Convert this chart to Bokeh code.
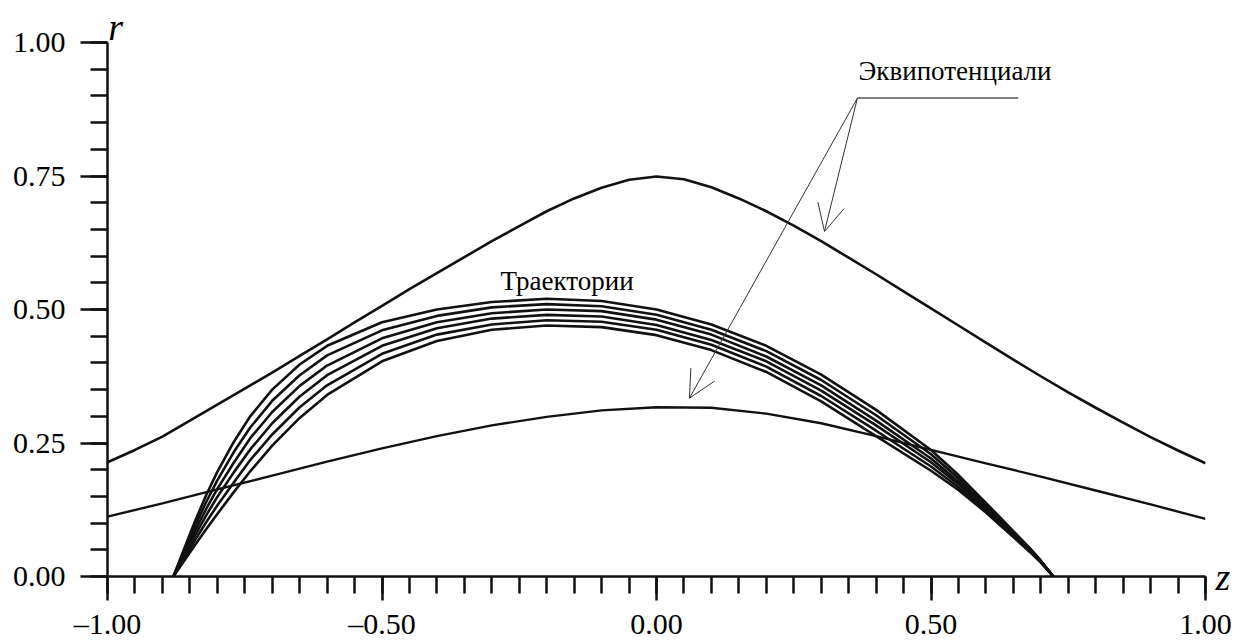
from bokeh.plotting import figure
from bokeh.models import Range1d, FixedTicker, Label, Arrow, OpenHead, LinearAxis
from bokeh.embed import file_html
from bokeh.resources import INLINE

# ---------------- data ----------------
z_upper = [-1.00, -0.95, -0.90, -0.85, -0.80, -0.75, -0.70, -0.65, -0.60, -0.55,
           -0.50, -0.45, -0.40, -0.35, -0.30, -0.25, -0.20, -0.15, -0.10, -0.05,
           0.00, 0.05, 0.10, 0.15, 0.20, 0.25, 0.30, 0.35, 0.40, 0.45,
           0.50, 0.55, 0.60, 0.65, 0.70, 0.75, 0.80, 0.85, 0.90, 0.95, 1.00]
r_upper = [0.214, 0.237, 0.262, 0.292, 0.322, 0.352, 0.382, 0.413, 0.444, 0.476,
           0.507, 0.538, 0.568, 0.598, 0.628, 0.656, 0.684, 0.708, 0.728, 0.743,
           0.749, 0.744, 0.729, 0.708, 0.684, 0.657, 0.628, 0.597, 0.566, 0.534,
           0.502, 0.470, 0.438, 0.406, 0.375, 0.345, 0.316, 0.288, 0.261, 0.236, 0.212]

z_lower = [-1.0, -0.9, -0.8, -0.7, -0.6, -0.5, -0.4, -0.3, -0.2, -0.1, 0.0,
           0.1, 0.2, 0.3, 0.4, 0.5, 0.6, 0.7, 0.8, 0.9, 1.0]
r_lower = [0.112, 0.137, 0.163, 0.189, 0.215, 0.240, 0.263, 0.283, 0.299, 0.311, 0.317,
           0.316, 0.305, 0.287, 0.263, 0.237, 0.212, 0.187, 0.161, 0.135, 0.108]

z_traj = [-0.88, -0.86, -0.84, -0.82, -0.80, -0.77, -0.74, -0.70, -0.65, -0.60,
          -0.50, -0.40, -0.30, -0.20, -0.10, 0.00, 0.10, 0.20, 0.30, 0.40,
          0.50, 0.55, 0.60, 0.65, 0.68, 0.70, 0.723]
r_traj1 = [0, 0.053, 0.105, 0.153, 0.196, 0.252, 0.300, 0.350, 0.397, 0.432,
           0.476, 0.500, 0.514, 0.520, 0.516, 0.500, 0.472, 0.432, 0.378, 0.312,
           0.237, 0.190, 0.138, 0.085, 0.053, 0.030, 0]
r_traj2 = [0, 0.048, 0.096, 0.140, 0.180, 0.233, 0.279, 0.329, 0.377, 0.414,
           0.461, 0.488, 0.504, 0.510, 0.506, 0.490, 0.462, 0.422, 0.368, 0.302,
           0.229, 0.184, 0.134, 0.083, 0.052, 0.029, 0]
r_traj3 = [0, 0.044, 0.087, 0.127, 0.164, 0.213, 0.259, 0.308, 0.357, 0.395,
           0.446, 0.476, 0.493, 0.500, 0.497, 0.481, 0.453, 0.412, 0.358, 0.292,
           0.221, 0.178, 0.131, 0.081, 0.050, 0.028, 0]
r_traj4 = [0, 0.039, 0.078, 0.115, 0.149, 0.195, 0.238, 0.287, 0.337, 0.377,
           0.432, 0.465, 0.483, 0.490, 0.487, 0.471, 0.443, 0.403, 0.348, 0.283,
           0.214, 0.173, 0.127, 0.078, 0.049, 0.028, 0]
r_traj5 = [0, 0.035, 0.069, 0.102, 0.133, 0.176, 0.218, 0.266, 0.317, 0.358,
           0.417, 0.453, 0.472, 0.480, 0.477, 0.462, 0.434, 0.393, 0.338, 0.273,
           0.206, 0.167, 0.124, 0.076, 0.047, 0.027, 0]
r_traj6 = [0, 0.030, 0.060, 0.089, 0.117, 0.158, 0.197, 0.245, 0.297, 0.340,
           0.403, 0.441, 0.462, 0.470, 0.467, 0.452, 0.424, 0.383, 0.328, 0.263,
           0.198, 0.162, 0.120, 0.074, 0.046, 0.026, 0]
trajectories = [r_traj1, r_traj2, r_traj3, r_traj4, r_traj5, r_traj6]

x_major = [-1.0, -0.5, 0.0, 0.5, 1.0]
x_labels = ["\u20131.00", "\u20130.50", "0.00", "0.50", "1.00"]
y_major = [0.0, 0.25, 0.5, 0.75, 1.0]
y_labels = ["0.00", "0.25", "0.50", "0.75", "1.00"]

label_traj = "Траектории"
label_equi = "Эквипотенциали"
name_r = "r"
name_z = "z"

# ---------------- figure ----------------
SERIF = "Liberation Serif"
INK = "#111111"

p = figure(width=1246, height=642, x_range=Range1d(-1, 1), y_range=Range1d(0, 1),
           output_backend="svg", toolbar_location=None,
           min_border_left=107, min_border_right=41, min_border_top=42, min_border_bottom=64)
p.outline_line_color = None
p.grid.visible = False
p.background_fill_color = "white"
p.border_fill_color = "white"

xminor = [round(-1 + 0.05 * i, 2) for i in range(41)]
yminor = [round(0.05 * i, 2) for i in range(21)]
p.xaxis.ticker = FixedTicker(ticks=x_major, minor_ticks=xminor)
p.yaxis.ticker = FixedTicker(ticks=y_major, minor_ticks=yminor)
p.xaxis.major_label_overrides = {t: s for t, s in zip(x_major, x_labels)}
p.yaxis.major_label_overrides = {t: s for t, s in zip(y_major, y_labels)}

for ax in (p.xaxis[0], p.yaxis[0]):
    ax.axis_line_color = INK
    ax.axis_line_width = 2.5
    ax.major_tick_line_color = INK
    ax.major_tick_line_width = 2.5
    ax.minor_tick_line_color = INK
    ax.minor_tick_line_width = 2.5
    ax.major_tick_in = 0
    ax.minor_tick_in = 0
    ax.major_label_text_font = SERIF
    ax.major_label_text_font_size = "30px"
    ax.major_label_text_color = "black"

p.xaxis.major_tick_out = 24
p.xaxis.minor_tick_out = 17
p.xaxis.major_label_standoff = 6
p.yaxis.major_tick_out = 27
p.yaxis.minor_tick_out = 17
p.yaxis.major_label_standoff = 15

# axis names as tick labels of bare extra axes (so they are not clipped)
r_pos = -0.985
top_ax = LinearAxis(ticker=FixedTicker(ticks=[r_pos]), major_label_overrides={r_pos: name_r},
                    axis_line_color=None, major_tick_line_color=None, minor_tick_line_color=None,
                    major_tick_in=0, major_tick_out=0, minor_tick_in=0, minor_tick_out=0,
                    major_label_text_font=SERIF, major_label_text_font_style="italic",
                    major_label_text_font_size="38px", major_label_text_color="black",
                    major_label_standoff=-5)
p.add_layout(top_ax, "above")

z_pos = 0.0
right_ax = LinearAxis(ticker=FixedTicker(ticks=[z_pos]), major_label_overrides={z_pos: name_z},
                      axis_line_color=None, major_tick_line_color=None, minor_tick_line_color=None,
                      major_tick_in=0, major_tick_out=0, minor_tick_in=0, minor_tick_out=0,
                      major_label_text_font=SERIF, major_label_text_font_style="italic",
                      major_label_text_font_size="38px", major_label_text_color="black",
                      major_label_standoff=10, major_label_orientation="horizontal")
p.add_layout(right_ax, "right")

# curves
p.line(z_upper, r_upper, line_color=INK, line_width=2.6)
p.line(z_lower, r_lower, line_color=INK, line_width=2.4)
for rt in trajectories:
    p.line(z_traj, rt, line_color=INK, line_width=2.6)

# annotations
p.add_layout(Label(x=-0.284, y=0.525, text=label_traj, text_font=SERIF,
                   text_font_size="27px", text_color="black"))
p.add_layout(Label(x=0.368, y=0.918, text=label_equi, text_font=SERIF,
                   text_font_size="27px", text_color="black"))
p.line([0.366, 0.659], [0.896, 0.896], line_color="#808080", line_width=2)

for (xe, ye) in [(0.060, 0.334), (0.306, 0.646)]:
    p.add_layout(Arrow(x_start=0.366, y_start=0.896, x_end=xe, y_end=ye,
                       line_color="#333333", line_width=1,
                       end=OpenHead(size=27, line_color="#333333", line_width=1)))

open("out.html", "w").write(file_html(p, INLINE))
